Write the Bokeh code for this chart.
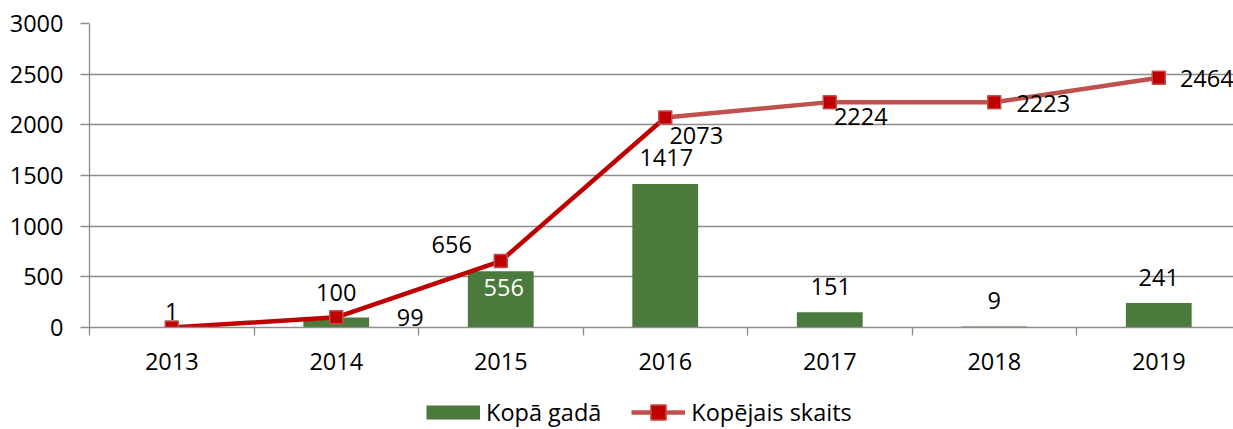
from bokeh.plotting import figure
from bokeh.layouts import column
from bokeh.models import Range1d, FixedTicker, Legend, LegendItem, ColumnDataSource
from bokeh.core.properties import value
from bokeh.embed import file_html
from bokeh.resources import INLINE

# ---- data ----
years = ["2013", "2014", "2015", "2016", "2017", "2018", "2019"]
per_year = [1, 99, 556, 1417, 151, 9, 241]          # Kopā gadā
cumulative = [1, 100, 656, 2073, 2224, 2223, 2464]  # Kopējais skaits
y_ticks = [0, 500, 1000, 1500, 2000, 2500, 3000]

# ---- styles ----
FONT = "Open Sans"
FS = "23.5px"
GREEN = "#4A7A3C"
DARK_RED = "#C00000"
LIGHT_RED = "#C0504D"
GRID = "#8C8C8C"

# label offsets in screen pixels (dx right, dy down)
line_dx = [0, 0, -49, 31, 31, 49, 48]
line_dy = [-16, -25, -17, 18, 14, 1, 1]
bar_dx = [0, 74, 3, 1, 1, 0, 0]
bar_dy = [-26, 0, 16, -26, -26, -26, -26]
bar_lbl_color = ["black", "black", "white", "black", "black", "black", "black"]

W = 1233
H_MAIN = 390
H_LEG = 39
LEFT, TOP = 89, 23
cat_px = 164.5
frame_w = W - LEFT
frame_h = 304

xs = [i + 0.5 for i in range(len(years))]

p = figure(width=W, height=H_MAIN, output_backend="svg", toolbar_location=None,
           x_range=Range1d(0, frame_w / cat_px), y_range=Range1d(0, 3000),
           min_border_left=LEFT, min_border_right=0, min_border_top=TOP,
           min_border_bottom=H_MAIN - TOP - frame_h)
p.outline_line_color = None
p.background_fill_color = "white"
p.border_fill_color = "white"

bars_src = ColumnDataSource(dict(x=xs, top=per_year))
bars = p.vbar(x="x", top="top", width=0.40, source=bars_src,
              fill_color=GREEN, line_color=None)

line_a = p.line(xs[:4], cumulative[:4], line_color=DARK_RED, line_width=4.5)
line_b = p.line(xs[3:], cumulative[3:], line_color=LIGHT_RED, line_width=4.5)
markers = p.scatter(xs, cumulative, marker="square", size=13,
                    fill_color=DARK_RED, line_color=LIGHT_RED, line_width=1.5)

bar_text = ["" if i == 0 else str(v) for i, v in enumerate(per_year)]
bar_lbl = ColumnDataSource(dict(x=xs, y=per_year, t=bar_text, dx=bar_dx, dy=bar_dy,
                                c=bar_lbl_color))
p.text(x="x", y="y", text="t", x_offset="dx", y_offset="dy", text_color="c",
       source=bar_lbl, text_font=value(FONT), text_font_size=value(FS),
       text_align="center", text_baseline="middle")

line_lbl = ColumnDataSource(dict(x=xs, y=cumulative, t=[str(v) for v in cumulative],
                                 dx=line_dx, dy=line_dy))
p.text(x="x", y="y", text="t", x_offset="dx", y_offset="dy", text_color="black",
       source=line_lbl, text_font=value(FONT), text_font_size=value(FS),
       text_align="center", text_baseline="middle")

# ---- axes ----
p.xaxis.ticker = FixedTicker(ticks=xs, minor_ticks=list(range(len(years) + 1)))
p.xaxis.major_label_overrides = {x: y for x, y in zip(xs, years)}
p.xaxis.axis_line_color = GRID
p.xaxis.axis_line_width = 1.3
p.xaxis.major_tick_out = 0
p.xaxis.major_tick_in = 0
p.xaxis.minor_tick_out = 8
p.xaxis.minor_tick_in = 0
p.xaxis.minor_tick_line_color = GRID
p.xaxis.minor_tick_line_width = 1.3
p.xaxis.major_label_text_font = FONT
p.xaxis.major_label_text_font_size = FS
p.xaxis.major_label_text_color = "black"
p.xaxis.major_label_standoff = 17

p.yaxis.ticker = FixedTicker(ticks=y_ticks)
p.yaxis.axis_line_color = GRID
p.yaxis.axis_line_width = 1.3
p.yaxis.major_tick_out = 9
p.yaxis.major_tick_in = 0
p.yaxis.major_tick_line_color = GRID
p.yaxis.major_tick_line_width = 1.3
p.yaxis.minor_tick_line_color = None
p.yaxis.major_label_text_font = FONT
p.yaxis.major_label_text_font_size = FS
p.yaxis.major_label_text_color = "black"
p.yaxis.major_label_standoff = 17

p.xgrid.visible = False
p.ygrid.ticker = FixedTicker(ticks=y_ticks)
p.ygrid.grid_line_color = GRID
p.ygrid.grid_line_width = 1.3

# ---- legend strip below the chart (hidden key renderers carry the styles) ----
lp = figure(width=W, height=H_LEG, output_backend="svg", toolbar_location=None,
            x_range=Range1d(0, 1), y_range=Range1d(0, 1),
            x_axis_type=None, y_axis_type=None, min_border=0)
lp.outline_line_color = None
lp.grid.visible = False
bar_key = lp.line(x=xs, y=per_year, line_color=GREEN, line_width=14, visible=False)
line_key = lp.line(x=xs, y=cumulative, line_color=LIGHT_RED, line_width=4.5, visible=False)
mark_key = lp.scatter(x=xs, y=cumulative, marker="square", fill_color=DARK_RED,
                      line_color=LIGHT_RED, line_width=1.5, visible=False)
legend = Legend(items=[LegendItem(label="Kopā gadā", renderers=[bar_key]),
                       LegendItem(label="Kopējais skaits", renderers=[line_key, mark_key])],
                orientation="horizontal", padding=0, margin=0, label_standoff=6,
                spacing=30, glyph_width=54, glyph_height=38,
                border_line_color=None, background_fill_alpha=0,
                inactive_fill_alpha=0,
                label_text_font=FONT, label_text_font_size=FS, label_text_color="black",
                location=(426 - LEFT, -2))
lp.add_layout(legend)

layout = column(p, lp, spacing=0)
open("out.html", "w").write(file_html(layout, INLINE))
